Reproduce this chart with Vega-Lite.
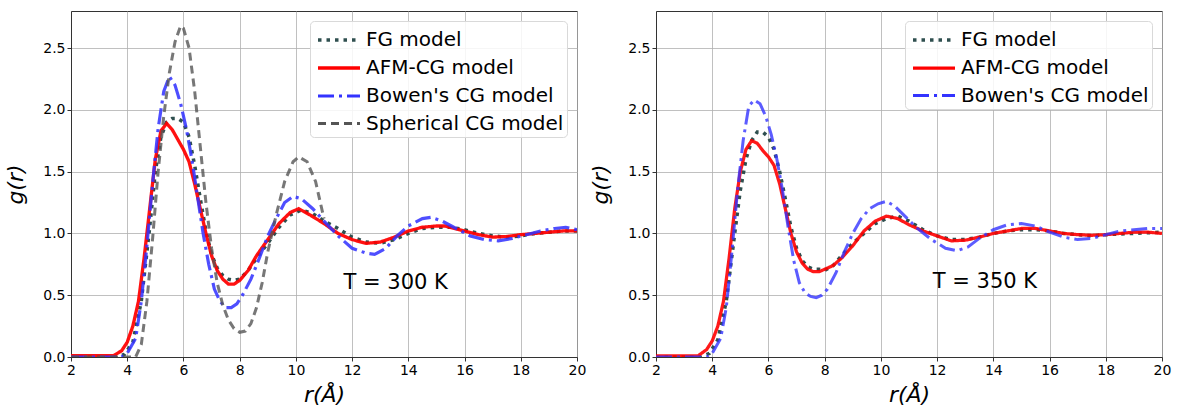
{
  "$schema": "https://vega.github.io/schema/vega-lite/v6.json",
  "padding": {"left": 4, "top": 10, "right": 5, "bottom": 3},
  "background": "white",
  "spacing": 2,
  "config": {
    "font": "DejaVu Sans",
    "view": {"stroke": "#333", "strokeWidth": 1},
    "axis": {
      "grid": true, "gridColor": "#b0b0b0", "gridWidth": 0.8,
      "domainColor": "#333", "tickColor": "#333", "tickSize": 4,
      "labelFontSize": 14, "labelColor": "#000", "labelFont": "DejaVu Sans",
      "titleFontSize": 22, "titleFontWeight": "normal", "titleFontStyle": "italic",
      "titleFont": "DejaVu Sans", "titleColor": "#000", "labelFlush": false
    },
    "legend": {
      "labelFontSize": 20, "labelFont": "DejaVu Sans", "labelColor": "#000", "labelLimit": 400,
      "orient": "top-right", "offset": 10, "padding": 3,
      "strokeColor": "#d9d9d9", "fillColor": "rgba(255,255,255,0.85)", "cornerRadius": 4,
      "symbolType": "M-1.5,0H1.5", "symbolSize": 784, "symbolOffset": 10, "rowPadding": 2, "labelOffset": 11
    }
  },
  "datasets": {
    "left": [
      {"model": "FG model", "r": 2, "g": 0}, {"model": "FG model", "r": 3.5, "g": 0}, {"model": "FG model", "r": 3.9, "g": 0.02}, {"model": "FG model", "r": 4.2, "g": 0.12}, {"model": "FG model", "r": 4.5, "g": 0.45}, {"model": "FG model", "r": 4.8, "g": 1.05}, {"model": "FG model", "r": 5.0, "g": 1.5}, {"model": "FG model", "r": 5.2, "g": 1.78}, {"model": "FG model", "r": 5.4, "g": 1.9}, {"model": "FG model", "r": 5.6, "g": 1.93}, {"model": "FG model", "r": 5.8, "g": 1.93}, {"model": "FG model", "r": 6.0, "g": 1.9}, {"model": "FG model", "r": 6.2, "g": 1.78}, {"model": "FG model", "r": 6.4, "g": 1.55}, {"model": "FG model", "r": 6.6, "g": 1.28}, {"model": "FG model", "r": 6.8, "g": 1.02}, {"model": "FG model", "r": 7.0, "g": 0.83}, {"model": "FG model", "r": 7.2, "g": 0.72}, {"model": "FG model", "r": 7.4, "g": 0.66}, {"model": "FG model", "r": 7.6, "g": 0.63}, {"model": "FG model", "r": 7.8, "g": 0.62}, {"model": "FG model", "r": 8.0, "g": 0.63}, {"model": "FG model", "r": 8.3, "g": 0.7}, {"model": "FG model", "r": 8.6, "g": 0.8}, {"model": "FG model", "r": 9.0, "g": 0.92}, {"model": "FG model", "r": 9.4, "g": 1.05}, {"model": "FG model", "r": 9.8, "g": 1.15}, {"model": "FG model", "r": 10.2, "g": 1.19}, {"model": "FG model", "r": 10.6, "g": 1.16}, {"model": "FG model", "r": 11.0, "g": 1.1}, {"model": "FG model", "r": 11.5, "g": 1.04}, {"model": "FG model", "r": 12.0, "g": 0.97}, {"model": "FG model", "r": 12.5, "g": 0.93}, {"model": "FG model", "r": 13.0, "g": 0.92}, {"model": "FG model", "r": 13.5, "g": 0.95}, {"model": "FG model", "r": 14.0, "g": 1.0}, {"model": "FG model", "r": 14.5, "g": 1.04}, {"model": "FG model", "r": 15.0, "g": 1.05}, {"model": "FG model", "r": 15.5, "g": 1.05}, {"model": "FG model", "r": 16.0, "g": 1.03}, {"model": "FG model", "r": 16.5, "g": 1.0}, {"model": "FG model", "r": 17.0, "g": 0.98}, {"model": "FG model", "r": 17.5, "g": 0.97}, {"model": "FG model", "r": 18.0, "g": 0.98}, {"model": "FG model", "r": 18.5, "g": 1.0}, {"model": "FG model", "r": 19.0, "g": 1.01}, {"model": "FG model", "r": 19.5, "g": 1.02}, {"model": "FG model", "r": 20.0, "g": 1.02},

      {"model": "AFM-CG model", "r": 2, "g": 0.01}, {"model": "AFM-CG model", "r": 3.0, "g": 0.01}, {"model": "AFM-CG model", "r": 3.5, "g": 0.01}, {"model": "AFM-CG model", "r": 3.8, "g": 0.05}, {"model": "AFM-CG model", "r": 4.0, "g": 0.12}, {"model": "AFM-CG model", "r": 4.2, "g": 0.25}, {"model": "AFM-CG model", "r": 4.4, "g": 0.45}, {"model": "AFM-CG model", "r": 4.6, "g": 0.8}, {"model": "AFM-CG model", "r": 4.8, "g": 1.2}, {"model": "AFM-CG model", "r": 5.0, "g": 1.6}, {"model": "AFM-CG model", "r": 5.2, "g": 1.83}, {"model": "AFM-CG model", "r": 5.4, "g": 1.89}, {"model": "AFM-CG model", "r": 5.6, "g": 1.84}, {"model": "AFM-CG model", "r": 5.8, "g": 1.76}, {"model": "AFM-CG model", "r": 6.0, "g": 1.68}, {"model": "AFM-CG model", "r": 6.2, "g": 1.58}, {"model": "AFM-CG model", "r": 6.4, "g": 1.4}, {"model": "AFM-CG model", "r": 6.6, "g": 1.2}, {"model": "AFM-CG model", "r": 6.8, "g": 1.0}, {"model": "AFM-CG model", "r": 7.0, "g": 0.82}, {"model": "AFM-CG model", "r": 7.2, "g": 0.7}, {"model": "AFM-CG model", "r": 7.4, "g": 0.63}, {"model": "AFM-CG model", "r": 7.6, "g": 0.59}, {"model": "AFM-CG model", "r": 7.8, "g": 0.59}, {"model": "AFM-CG model", "r": 8.0, "g": 0.62}, {"model": "AFM-CG model", "r": 8.3, "g": 0.7}, {"model": "AFM-CG model", "r": 8.6, "g": 0.82}, {"model": "AFM-CG model", "r": 9.0, "g": 0.95}, {"model": "AFM-CG model", "r": 9.4, "g": 1.08}, {"model": "AFM-CG model", "r": 9.8, "g": 1.17}, {"model": "AFM-CG model", "r": 10.1, "g": 1.2}, {"model": "AFM-CG model", "r": 10.5, "g": 1.15}, {"model": "AFM-CG model", "r": 11.0, "g": 1.08}, {"model": "AFM-CG model", "r": 11.5, "g": 1.0}, {"model": "AFM-CG model", "r": 12.0, "g": 0.95}, {"model": "AFM-CG model", "r": 12.5, "g": 0.92}, {"model": "AFM-CG model", "r": 13.0, "g": 0.93}, {"model": "AFM-CG model", "r": 13.5, "g": 0.97}, {"model": "AFM-CG model", "r": 14.0, "g": 1.02}, {"model": "AFM-CG model", "r": 14.5, "g": 1.05}, {"model": "AFM-CG model", "r": 15.0, "g": 1.06}, {"model": "AFM-CG model", "r": 15.3, "g": 1.06}, {"model": "AFM-CG model", "r": 16.0, "g": 1.02}, {"model": "AFM-CG model", "r": 16.5, "g": 0.99}, {"model": "AFM-CG model", "r": 17.0, "g": 0.97}, {"model": "AFM-CG model", "r": 17.5, "g": 0.975}, {"model": "AFM-CG model", "r": 18.0, "g": 0.99}, {"model": "AFM-CG model", "r": 18.5, "g": 1.0}, {"model": "AFM-CG model", "r": 19.0, "g": 1.01}, {"model": "AFM-CG model", "r": 19.5, "g": 1.02}, {"model": "AFM-CG model", "r": 20.0, "g": 1.02},

      {"model": "Bowen's CG model", "r": 2, "g": 0}, {"model": "Bowen's CG model", "r": 3.8, "g": 0}, {"model": "Bowen's CG model", "r": 4.0, "g": 0.03}, {"model": "Bowen's CG model", "r": 4.3, "g": 0.15}, {"model": "Bowen's CG model", "r": 4.5, "g": 0.45}, {"model": "Bowen's CG model", "r": 4.7, "g": 0.9}, {"model": "Bowen's CG model", "r": 4.9, "g": 1.4}, {"model": "Bowen's CG model", "r": 5.1, "g": 1.85}, {"model": "Bowen's CG model", "r": 5.3, "g": 2.15}, {"model": "Bowen's CG model", "r": 5.5, "g": 2.27}, {"model": "Bowen's CG model", "r": 5.7, "g": 2.2}, {"model": "Bowen's CG model", "r": 5.9, "g": 2.05}, {"model": "Bowen's CG model", "r": 6.1, "g": 1.85}, {"model": "Bowen's CG model", "r": 6.3, "g": 1.6}, {"model": "Bowen's CG model", "r": 6.5, "g": 1.3}, {"model": "Bowen's CG model", "r": 6.7, "g": 1.0}, {"model": "Bowen's CG model", "r": 6.9, "g": 0.75}, {"model": "Bowen's CG model", "r": 7.1, "g": 0.55}, {"model": "Bowen's CG model", "r": 7.3, "g": 0.45}, {"model": "Bowen's CG model", "r": 7.5, "g": 0.4}, {"model": "Bowen's CG model", "r": 7.7, "g": 0.4}, {"model": "Bowen's CG model", "r": 7.9, "g": 0.43}, {"model": "Bowen's CG model", "r": 8.1, "g": 0.5}, {"model": "Bowen's CG model", "r": 8.4, "g": 0.63}, {"model": "Bowen's CG model", "r": 8.7, "g": 0.8}, {"model": "Bowen's CG model", "r": 9.0, "g": 0.98}, {"model": "Bowen's CG model", "r": 9.3, "g": 1.12}, {"model": "Bowen's CG model", "r": 9.6, "g": 1.25}, {"model": "Bowen's CG model", "r": 9.9, "g": 1.3}, {"model": "Bowen's CG model", "r": 10.2, "g": 1.28}, {"model": "Bowen's CG model", "r": 10.6, "g": 1.2}, {"model": "Bowen's CG model", "r": 11.0, "g": 1.1}, {"model": "Bowen's CG model", "r": 11.5, "g": 0.98}, {"model": "Bowen's CG model", "r": 12.0, "g": 0.88}, {"model": "Bowen's CG model", "r": 12.5, "g": 0.84}, {"model": "Bowen's CG model", "r": 12.8, "g": 0.83}, {"model": "Bowen's CG model", "r": 13.2, "g": 0.88}, {"model": "Bowen's CG model", "r": 13.6, "g": 0.98}, {"model": "Bowen's CG model", "r": 14.0, "g": 1.06}, {"model": "Bowen's CG model", "r": 14.5, "g": 1.12}, {"model": "Bowen's CG model", "r": 14.8, "g": 1.13}, {"model": "Bowen's CG model", "r": 15.2, "g": 1.1}, {"model": "Bowen's CG model", "r": 15.7, "g": 1.04}, {"model": "Bowen's CG model", "r": 16.2, "g": 0.98}, {"model": "Bowen's CG model", "r": 16.7, "g": 0.95}, {"model": "Bowen's CG model", "r": 17.2, "g": 0.94}, {"model": "Bowen's CG model", "r": 17.7, "g": 0.96}, {"model": "Bowen's CG model", "r": 18.2, "g": 0.99}, {"model": "Bowen's CG model", "r": 18.7, "g": 1.02}, {"model": "Bowen's CG model", "r": 19.2, "g": 1.04}, {"model": "Bowen's CG model", "r": 19.6, "g": 1.05}, {"model": "Bowen's CG model", "r": 20.0, "g": 1.03},

      {"model": "Spherical CG model", "r": 2, "g": 0}, {"model": "Spherical CG model", "r": 4.3, "g": 0}, {"model": "Spherical CG model", "r": 4.5, "g": 0.1}, {"model": "Spherical CG model", "r": 4.7, "g": 0.45}, {"model": "Spherical CG model", "r": 4.9, "g": 0.95}, {"model": "Spherical CG model", "r": 5.1, "g": 1.5}, {"model": "Spherical CG model", "r": 5.3, "g": 1.95}, {"model": "Spherical CG model", "r": 5.5, "g": 2.3}, {"model": "Spherical CG model", "r": 5.7, "g": 2.55}, {"model": "Spherical CG model", "r": 5.9, "g": 2.68}, {"model": "Spherical CG model", "r": 6.0, "g": 2.66}, {"model": "Spherical CG model", "r": 6.2, "g": 2.5}, {"model": "Spherical CG model", "r": 6.4, "g": 2.15}, {"model": "Spherical CG model", "r": 6.6, "g": 1.7}, {"model": "Spherical CG model", "r": 6.8, "g": 1.25}, {"model": "Spherical CG model", "r": 7.0, "g": 0.88}, {"model": "Spherical CG model", "r": 7.2, "g": 0.6}, {"model": "Spherical CG model", "r": 7.4, "g": 0.42}, {"model": "Spherical CG model", "r": 7.6, "g": 0.3}, {"model": "Spherical CG model", "r": 7.8, "g": 0.23}, {"model": "Spherical CG model", "r": 8.0, "g": 0.2}, {"model": "Spherical CG model", "r": 8.2, "g": 0.21}, {"model": "Spherical CG model", "r": 8.4, "g": 0.27}, {"model": "Spherical CG model", "r": 8.6, "g": 0.4}, {"model": "Spherical CG model", "r": 8.8, "g": 0.6}, {"model": "Spherical CG model", "r": 9.0, "g": 0.85}, {"model": "Spherical CG model", "r": 9.3, "g": 1.15}, {"model": "Spherical CG model", "r": 9.6, "g": 1.42}, {"model": "Spherical CG model", "r": 9.9, "g": 1.58}, {"model": "Spherical CG model", "r": 10.1, "g": 1.62}, {"model": "Spherical CG model", "r": 10.4, "g": 1.58}, {"model": "Spherical CG model", "r": 10.7, "g": 1.42}, {"model": "Spherical CG model", "r": 11.0, "g": 1.12}
    ],
    "right": [
      {"model": "FG model", "r": 2, "g": 0}, {"model": "FG model", "r": 3.6, "g": 0}, {"model": "FG model", "r": 3.9, "g": 0.03}, {"model": "FG model", "r": 4.2, "g": 0.14}, {"model": "FG model", "r": 4.5, "g": 0.45}, {"model": "FG model", "r": 4.8, "g": 1.0}, {"model": "FG model", "r": 5.0, "g": 1.35}, {"model": "FG model", "r": 5.2, "g": 1.6}, {"model": "FG model", "r": 5.4, "g": 1.75}, {"model": "FG model", "r": 5.6, "g": 1.82}, {"model": "FG model", "r": 5.8, "g": 1.82}, {"model": "FG model", "r": 6.0, "g": 1.78}, {"model": "FG model", "r": 6.2, "g": 1.68}, {"model": "FG model", "r": 6.4, "g": 1.5}, {"model": "FG model", "r": 6.6, "g": 1.28}, {"model": "FG model", "r": 6.8, "g": 1.05}, {"model": "FG model", "r": 7.0, "g": 0.88}, {"model": "FG model", "r": 7.2, "g": 0.78}, {"model": "FG model", "r": 7.4, "g": 0.73}, {"model": "FG model", "r": 7.6, "g": 0.71}, {"model": "FG model", "r": 7.8, "g": 0.71}, {"model": "FG model", "r": 8.0, "g": 0.7}, {"model": "FG model", "r": 8.3, "g": 0.74}, {"model": "FG model", "r": 8.6, "g": 0.82}, {"model": "FG model", "r": 9.0, "g": 0.92}, {"model": "FG model", "r": 9.4, "g": 1.0}, {"model": "FG model", "r": 9.8, "g": 1.08}, {"model": "FG model", "r": 10.2, "g": 1.12}, {"model": "FG model", "r": 10.6, "g": 1.14}, {"model": "FG model", "r": 11.0, "g": 1.1}, {"model": "FG model", "r": 11.5, "g": 1.03}, {"model": "FG model", "r": 12.0, "g": 0.98}, {"model": "FG model", "r": 12.5, "g": 0.95}, {"model": "FG model", "r": 13.0, "g": 0.95}, {"model": "FG model", "r": 13.5, "g": 0.97}, {"model": "FG model", "r": 14.0, "g": 1.0}, {"model": "FG model", "r": 14.5, "g": 1.02}, {"model": "FG model", "r": 15.0, "g": 1.03}, {"model": "FG model", "r": 15.5, "g": 1.03}, {"model": "FG model", "r": 16.0, "g": 1.02}, {"model": "FG model", "r": 16.5, "g": 1.0}, {"model": "FG model", "r": 17.0, "g": 0.99}, {"model": "FG model", "r": 17.5, "g": 0.98}, {"model": "FG model", "r": 18.0, "g": 0.99}, {"model": "FG model", "r": 19.0, "g": 1.0}, {"model": "FG model", "r": 20.0, "g": 1.01},

      {"model": "AFM-CG model", "r": 2, "g": 0.01}, {"model": "AFM-CG model", "r": 3.5, "g": 0.01}, {"model": "AFM-CG model", "r": 3.8, "g": 0.06}, {"model": "AFM-CG model", "r": 4.0, "g": 0.13}, {"model": "AFM-CG model", "r": 4.2, "g": 0.25}, {"model": "AFM-CG model", "r": 4.4, "g": 0.45}, {"model": "AFM-CG model", "r": 4.6, "g": 0.8}, {"model": "AFM-CG model", "r": 4.8, "g": 1.2}, {"model": "AFM-CG model", "r": 5.0, "g": 1.5}, {"model": "AFM-CG model", "r": 5.2, "g": 1.68}, {"model": "AFM-CG model", "r": 5.4, "g": 1.75}, {"model": "AFM-CG model", "r": 5.6, "g": 1.73}, {"model": "AFM-CG model", "r": 5.8, "g": 1.67}, {"model": "AFM-CG model", "r": 6.0, "g": 1.62}, {"model": "AFM-CG model", "r": 6.2, "g": 1.55}, {"model": "AFM-CG model", "r": 6.4, "g": 1.4}, {"model": "AFM-CG model", "r": 6.6, "g": 1.2}, {"model": "AFM-CG model", "r": 6.8, "g": 1.0}, {"model": "AFM-CG model", "r": 7.0, "g": 0.85}, {"model": "AFM-CG model", "r": 7.2, "g": 0.76}, {"model": "AFM-CG model", "r": 7.4, "g": 0.71}, {"model": "AFM-CG model", "r": 7.6, "g": 0.69}, {"model": "AFM-CG model", "r": 7.8, "g": 0.69}, {"model": "AFM-CG model", "r": 8.0, "g": 0.71}, {"model": "AFM-CG model", "r": 8.3, "g": 0.74}, {"model": "AFM-CG model", "r": 8.6, "g": 0.8}, {"model": "AFM-CG model", "r": 9.0, "g": 0.9}, {"model": "AFM-CG model", "r": 9.4, "g": 1.02}, {"model": "AFM-CG model", "r": 9.8, "g": 1.1}, {"model": "AFM-CG model", "r": 10.2, "g": 1.14}, {"model": "AFM-CG model", "r": 10.6, "g": 1.12}, {"model": "AFM-CG model", "r": 11.0, "g": 1.07}, {"model": "AFM-CG model", "r": 11.5, "g": 1.02}, {"model": "AFM-CG model", "r": 12.0, "g": 0.98}, {"model": "AFM-CG model", "r": 12.5, "g": 0.94}, {"model": "AFM-CG model", "r": 13.0, "g": 0.945}, {"model": "AFM-CG model", "r": 13.5, "g": 0.97}, {"model": "AFM-CG model", "r": 14.0, "g": 1.0}, {"model": "AFM-CG model", "r": 14.5, "g": 1.02}, {"model": "AFM-CG model", "r": 15.0, "g": 1.04}, {"model": "AFM-CG model", "r": 15.5, "g": 1.04}, {"model": "AFM-CG model", "r": 16.0, "g": 1.02}, {"model": "AFM-CG model", "r": 16.5, "g": 1.0}, {"model": "AFM-CG model", "r": 17.0, "g": 0.99}, {"model": "AFM-CG model", "r": 17.5, "g": 0.985}, {"model": "AFM-CG model", "r": 18.0, "g": 0.99}, {"model": "AFM-CG model", "r": 18.5, "g": 1.0}, {"model": "AFM-CG model", "r": 19.0, "g": 1.01}, {"model": "AFM-CG model", "r": 19.5, "g": 1.01}, {"model": "AFM-CG model", "r": 20.0, "g": 1.0},

      {"model": "Bowen's CG model", "r": 2, "g": 0}, {"model": "Bowen's CG model", "r": 3.8, "g": 0}, {"model": "Bowen's CG model", "r": 4.0, "g": 0.03}, {"model": "Bowen's CG model", "r": 4.3, "g": 0.15}, {"model": "Bowen's CG model", "r": 4.5, "g": 0.4}, {"model": "Bowen's CG model", "r": 4.7, "g": 0.85}, {"model": "Bowen's CG model", "r": 4.9, "g": 1.35}, {"model": "Bowen's CG model", "r": 5.1, "g": 1.75}, {"model": "Bowen's CG model", "r": 5.3, "g": 2.03}, {"model": "Bowen's CG model", "r": 5.5, "g": 2.08}, {"model": "Bowen's CG model", "r": 5.7, "g": 2.05}, {"model": "Bowen's CG model", "r": 5.9, "g": 1.95}, {"model": "Bowen's CG model", "r": 6.1, "g": 1.8}, {"model": "Bowen's CG model", "r": 6.3, "g": 1.6}, {"model": "Bowen's CG model", "r": 6.5, "g": 1.35}, {"model": "Bowen's CG model", "r": 6.7, "g": 1.05}, {"model": "Bowen's CG model", "r": 6.9, "g": 0.78}, {"model": "Bowen's CG model", "r": 7.1, "g": 0.6}, {"model": "Bowen's CG model", "r": 7.3, "g": 0.52}, {"model": "Bowen's CG model", "r": 7.5, "g": 0.49}, {"model": "Bowen's CG model", "r": 7.7, "g": 0.48}, {"model": "Bowen's CG model", "r": 7.9, "g": 0.5}, {"model": "Bowen's CG model", "r": 8.1, "g": 0.55}, {"model": "Bowen's CG model", "r": 8.4, "g": 0.68}, {"model": "Bowen's CG model", "r": 8.7, "g": 0.85}, {"model": "Bowen's CG model", "r": 9.0, "g": 1.0}, {"model": "Bowen's CG model", "r": 9.3, "g": 1.12}, {"model": "Bowen's CG model", "r": 9.6, "g": 1.2}, {"model": "Bowen's CG model", "r": 9.9, "g": 1.24}, {"model": "Bowen's CG model", "r": 10.2, "g": 1.26}, {"model": "Bowen's CG model", "r": 10.5, "g": 1.22}, {"model": "Bowen's CG model", "r": 10.9, "g": 1.13}, {"model": "Bowen's CG model", "r": 11.3, "g": 1.04}, {"model": "Bowen's CG model", "r": 11.8, "g": 0.95}, {"model": "Bowen's CG model", "r": 12.3, "g": 0.88}, {"model": "Bowen's CG model", "r": 12.7, "g": 0.86}, {"model": "Bowen's CG model", "r": 13.1, "g": 0.89}, {"model": "Bowen's CG model", "r": 13.5, "g": 0.96}, {"model": "Bowen's CG model", "r": 14.0, "g": 1.03}, {"model": "Bowen's CG model", "r": 14.5, "g": 1.07}, {"model": "Bowen's CG model", "r": 15.0, "g": 1.08}, {"model": "Bowen's CG model", "r": 15.5, "g": 1.06}, {"model": "Bowen's CG model", "r": 16.0, "g": 1.01}, {"model": "Bowen's CG model", "r": 16.5, "g": 0.97}, {"model": "Bowen's CG model", "r": 17.0, "g": 0.95}, {"model": "Bowen's CG model", "r": 17.5, "g": 0.96}, {"model": "Bowen's CG model", "r": 18.0, "g": 0.99}, {"model": "Bowen's CG model", "r": 18.5, "g": 1.02}, {"model": "Bowen's CG model", "r": 19.0, "g": 1.03}, {"model": "Bowen's CG model", "r": 19.5, "g": 1.04}, {"model": "Bowen's CG model", "r": 20.0, "g": 1.04}
    ],
    "labelLeft": [{"r": 13.55, "g": 0.6, "label": "T = 300 K"}],
    "labelRight": [{"r": 13.7, "g": 0.61, "label": "T = 350 K"}]
  },
  "hconcat": [
    {
      "width": 506, "height": 346,
      "layer": [
        {
          "data": {"name": "left"},
          "mark": {"type": "line", "clip": true},
          "encoding": {
            "x": {"field": "r", "type": "quantitative", "scale": {"domain": [2, 20], "nice": false}, "axis": {"values": [2, 4, 6, 8, 10, 12, 14, 16, 18, 20], "title": "r(Å)", "titlePadding": 7}},
            "y": {"field": "g", "type": "quantitative", "scale": {"domain": [0, 2.8], "nice": false}, "axis": {"values": [0, 0.5, 1, 1.5, 2, 2.5], "format": ".1f", "title": "g(r)", "titlePadding": 15}},
            "color": {"field": "model", "type": "nominal", "scale": {"domain": ["FG model", "AFM-CG model", "Bowen's CG model", "Spherical CG model"], "range": ["#2f4f4f", "#ff0000", "#3333ff", "#555555"]}, "legend": {"title": null}},
            "strokeDash": {"field": "model", "type": "nominal", "scale": {"domain": ["FG model", "AFM-CG model", "Bowen's CG model", "Spherical CG model"], "range": [[3.5, 5], [1, 0], [16, 5, 3, 5], [8, 5]]}, "legend": {"title": null}},
            "strokeWidth": {"field": "model", "type": "nominal", "scale": {"domain": ["FG model", "AFM-CG model", "Bowen's CG model", "Spherical CG model"], "range": [3.5, 3, 3, 2.2]}, "legend": {"title": null}},
            "strokeOpacity": {"field": "model", "type": "nominal", "scale": {"domain": ["FG model", "AFM-CG model", "Bowen's CG model", "Spherical CG model"], "range": [1, 0.8, 0.6, 0.75]}, "legend": {"title": null}}
          }
        },
        {
          "data": {"name": "labelLeft"},
          "mark": {"type": "text", "fontSize": 21, "font": "DejaVu Sans", "color": "#000", "align": "center", "baseline": "middle"},
          "encoding": {"x": {"field": "r", "type": "quantitative"}, "y": {"field": "g", "type": "quantitative"}, "text": {"field": "label"}}
        }
      ]
    },
    {
      "width": 506, "height": 346,
      "layer": [
        {
          "data": {"name": "right"},
          "mark": {"type": "line", "clip": true},
          "encoding": {
            "x": {"field": "r", "type": "quantitative", "scale": {"domain": [2, 20], "nice": false}, "axis": {"values": [2, 4, 6, 8, 10, 12, 14, 16, 18, 20], "title": "r(Å)", "titlePadding": 7}},
            "y": {"field": "g", "type": "quantitative", "scale": {"domain": [0, 2.8], "nice": false}, "axis": {"values": [0, 0.5, 1, 1.5, 2, 2.5], "format": ".1f", "title": "g(r)", "titlePadding": 15}},
            "color": {"field": "model", "type": "nominal", "scale": {"domain": ["FG model", "AFM-CG model", "Bowen's CG model"], "range": ["#2f4f4f", "#ff0000", "#3333ff"]}, "legend": {"title": null}},
            "strokeDash": {"field": "model", "type": "nominal", "scale": {"domain": ["FG model", "AFM-CG model", "Bowen's CG model"], "range": [[3.5, 5], [1, 0], [16, 5, 3, 5]]}, "legend": {"title": null}},
            "strokeWidth": {"field": "model", "type": "nominal", "scale": {"domain": ["FG model", "AFM-CG model", "Bowen's CG model"], "range": [3.5, 3, 3]}, "legend": {"title": null}},
            "strokeOpacity": {"field": "model", "type": "nominal", "scale": {"domain": ["FG model", "AFM-CG model", "Bowen's CG model"], "range": [1, 0.8, 0.6]}, "legend": {"title": null}}
          }
        },
        {
          "data": {"name": "labelRight"},
          "mark": {"type": "text", "fontSize": 21, "font": "DejaVu Sans", "color": "#000", "align": "center", "baseline": "middle"},
          "encoding": {"x": {"field": "r", "type": "quantitative"}, "y": {"field": "g", "type": "quantitative"}, "text": {"field": "label"}}
        }
      ]
    }
  ],
  "resolve": {"scale": {"color": "independent", "strokeDash": "independent", "strokeWidth": "independent", "strokeOpacity": "independent", "x": "independent", "y": "independent"}, "legend": {"color": "independent", "strokeDash": "independent", "strokeWidth": "independent", "strokeOpacity": "independent"}}
}
